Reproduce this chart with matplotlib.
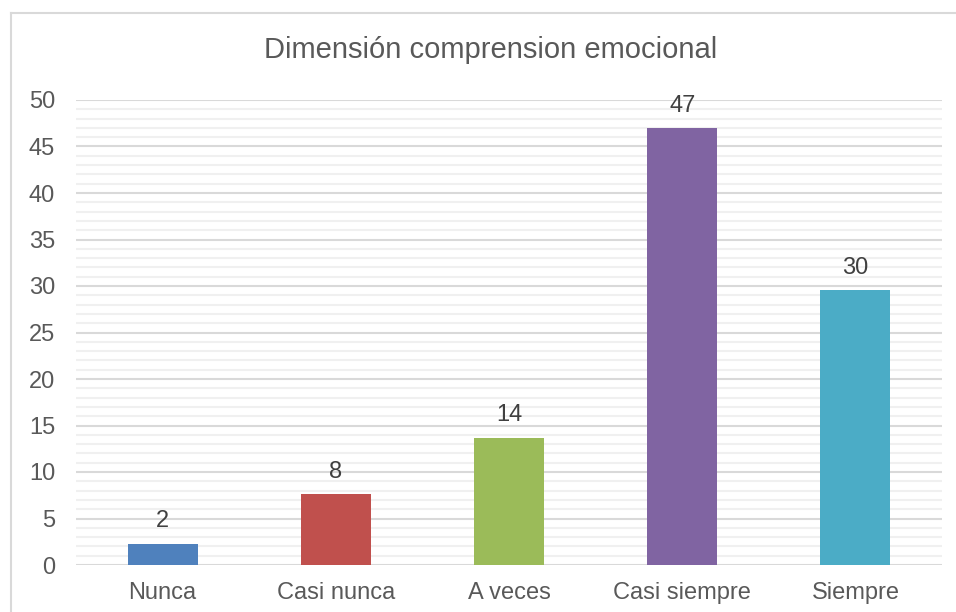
import matplotlib
matplotlib.use("Agg")
import matplotlib.pyplot as plt
from matplotlib.lines import Line2D
from matplotlib.ticker import MultipleLocator

# --- data ---
categories = ["Nunca", "Casi nunca", "A veces", "Casi siempre", "Siempre"]
values = [2.3, 7.6, 13.7, 47.0, 29.6]
colors = ["#4F81BD", "#C0504D", "#9BBB59", "#8064A2", "#4BACC6"]
title = "Dimensión comprension emocional"

TXT = "#595959"
plt.rcParams["font.family"] = ["Liberation Sans", "DejaVu Sans"]

W, H = 956, 612
fig = plt.figure(figsize=(W / 100, H / 100), dpi=100)
fig.patch.set_facecolor("white")

# outer chart frame (only top/left visible in the crop)
fig.add_artist(Line2D([11 / W, 11 / W], [0, 1 - 13 / H], transform=fig.transFigure, color="#D9D9D9", lw=1.5))
fig.add_artist(Line2D([11 / W, 1], [1 - 13 / H, 1 - 13 / H], transform=fig.transFigure, color="#D9D9D9", lw=1.5))

ax = fig.add_axes([76 / W, 1 - 565 / H, (942 - 76) / W, (565 - 100) / H])
x = range(len(categories))
bars = ax.bar(x, values, width=0.404, color=colors, zorder=3)
for b, v in zip(bars, values):
    ax.annotate(f"{v:.0f}", (b.get_x() + b.get_width() / 2, v), xytext=(0, 8),
                textcoords="offset points", ha="center", va="bottom", fontsize=17, color="#404040")

ax.set_xlim(-0.5, len(categories) - 0.5)
ax.set_ylim(0, 50)
ax.yaxis.set_major_locator(MultipleLocator(5))
ax.yaxis.set_minor_locator(MultipleLocator(1))
ax.grid(which="major", axis="y", color="#D9D9D9", lw=1.5, zorder=1)
ax.grid(which="minor", axis="y", color="#F0F0F0", lw=1.5, zorder=0)
ax.set_xticks(list(x))
ax.set_xticklabels(categories)
ax.tick_params(axis="both", which="both", length=0, labelsize=17, labelcolor=TXT)
ax.tick_params(axis="y", pad=15)
ax.tick_params(axis="x", pad=12)
for s in ax.spines.values():
    s.set_visible(False)

fig.text(490.5 / W, 1 - 50 / H, title, ha="center", va="center", fontsize=21, color=TXT)

fig.savefig("out.png", dpi=100)
